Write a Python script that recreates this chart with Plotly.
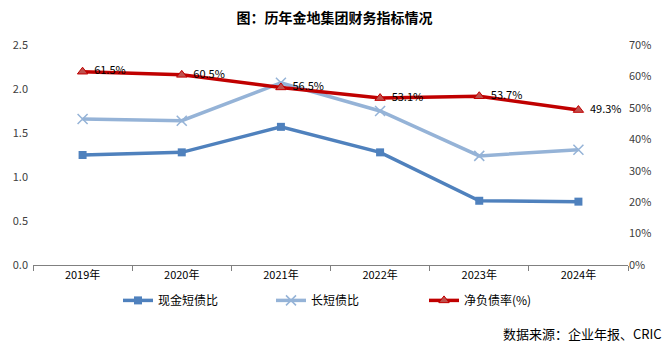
import plotly.graph_objects as go

years = ["2019年", "2020年", "2021年", "2022年", "2023年", "2024年"]
cash_ratio = [1.25, 1.28, 1.57, 1.28, 0.73, 0.72]
long_short = [1.66, 1.64, 2.07, 1.75, 1.24, 1.31]
net_debt = [61.5, 60.5, 56.5, 53.1, 53.7, 49.3]
net_debt_labels = [f"  {v:.1f}%" for v in net_debt]

font_family = "Noto Sans CJK SC, Liberation Sans, sans-serif"

fig = go.Figure()
fig.add_trace(go.Scatter(
    x=years, y=cash_ratio, name="现金短债比", mode="lines+markers",
    line=dict(color="#4F81BD", width=3.5),
    marker=dict(symbol="square", size=8, color="#4F81BD"),
))
fig.add_trace(go.Scatter(
    x=years, y=long_short, name="长短债比", mode="lines+markers",
    line=dict(color="#95B3D7", width=3.5),
    marker=dict(symbol="x-thin-open", size=10, color="#95B3D7",
                line=dict(color="#95B3D7", width=1.5)),
))
fig.add_trace(go.Scatter(
    x=years, y=net_debt, name="净负债率(%)", mode="lines+markers+text",
    yaxis="y2", cliponaxis=False,
    line=dict(color="#C00000", width=3.5),
    marker=dict(symbol="triangle-up", size=9, color="#C0504D",
                line=dict(color="#C00000", width=1)),
    text=net_debt_labels, textposition="middle right",
    textfont=dict(size=11, color="#000000"),
))

fig.update_layout(
    width=669, height=352,
    margin=dict(l=33, r=41, t=45, b=87, autoexpand=False),
    paper_bgcolor="white", plot_bgcolor="white",
    font=dict(family=font_family, size=11, color="#404040"),
    title=dict(text="<b>图：历年金地集团财务指标情况</b>", x=0.5, xanchor="center",
               y=0.95, yanchor="middle", font=dict(size=14, color="#000000")),
    xaxis=dict(
        range=[-0.5, 5.5],
        showgrid=False, showline=True, linecolor="#808080", linewidth=1,
        ticks="outside", tickson="boundaries", ticklen=5, tickcolor="#808080",
        tickfont=dict(size=11, color="#000000"), automargin=False,
    ),
    yaxis=dict(
        range=[0, 2.5], dtick=0.5, tickformat=".1f", showgrid=False,
        showline=False, zeroline=False, tickfont=dict(size=11, color="#404040"),
        ticklabelstandoff=4, automargin=False,
    ),
    yaxis2=dict(
        range=[0, 70], dtick=10, ticksuffix="%", overlaying="y", side="right",
        showgrid=False, showline=False, zeroline=False,
        tickfont=dict(size=11, color="#404040"), automargin=False,
    ),
    legend=dict(orientation="h", x=(118 - 33) / 595, xanchor="left", y=-0.095, yanchor="top",
                font=dict(size=12, color="#000000"),
                tracegroupgap=0, entrywidth=108, entrywidthmode="pixels"),
    showlegend=True,
)

fig.add_annotation(text="数据来源：企业年报、CRIC", xref="paper", yref="paper",
                   x=1.06, y=-0.26, xanchor="right", yanchor="top", showarrow=False,
                   font=dict(size=13, color="#000000"))

fig.write_html("out.html")
